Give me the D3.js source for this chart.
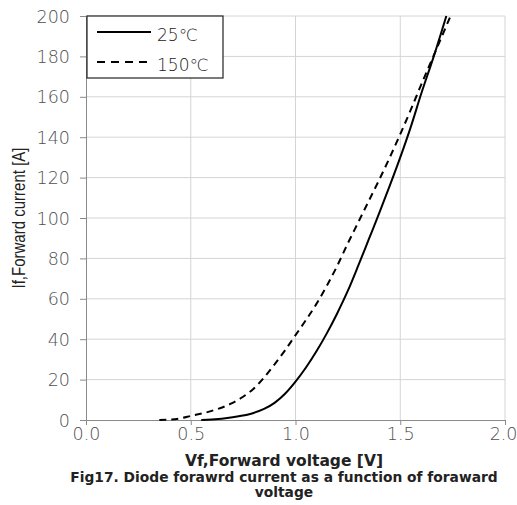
<!DOCTYPE html>
<html>
<head>
<meta charset="utf-8">
<script src="https://cdn.jsdelivr.net/npm/d3@7"></script>
<style>
  body { margin: 0; background: #fff; }
</style>
</head>
<body>
<div id="chart"></div>
<script>
// forward characteristics
var vf25 = [0.55, 0.6, 0.7, 0.8, 0.85, 0.9, 0.95, 1.0, 1.05, 1.1, 1.15, 1.2, 1.25, 1.3, 1.35, 1.4, 1.45, 1.5, 1.55, 1.6, 1.66, 1.72];
var if25 = [0, 0.2, 1.4, 3.5, 5.5, 8.5, 13, 19, 26, 34, 43, 53, 64, 76.5, 89.5, 102.5, 116, 130, 145, 161.5, 180, 200];
var vf150 = [0.35, 0.45, 0.5, 0.6, 0.7, 0.75, 0.8, 0.85, 0.9, 0.95, 1.0, 1.05, 1.1, 1.15, 1.2, 1.25, 1.3, 1.35, 1.4, 1.45, 1.5, 1.55, 1.6, 1.66, 1.74];
var if150 = [0, 0.8, 2, 4.5, 8.5, 11.5, 15.5, 21, 27.5, 34.5, 42, 49.5, 57.5, 66.5, 76.5, 87.5, 98, 108.5, 119, 130, 141.5, 153.5, 166, 180.5, 200];
var xTicks = [0, 0.5, 1.0, 1.5, 2.0];
var yTicks = [0, 20, 40, 60, 80, 100, 120, 140, 160, 180, 200];
var legendNames = ["25\u2103", "150\u2103"];

var W = 517, H = 505;
var svg = d3.select("#chart").append("svg")
    .attr("width", W)
    .attr("height", H);

var x = d3.scaleLinear().domain([0, 2]).range([86, 505]);
var y = d3.scaleLinear().domain([0, 200]).range([420, 16]);

// grid
svg.append("g").selectAll("line").data(yTicks.slice(1)).enter().append("line")
    .attr("x1", x(0)).attr("x2", x(2))
    .attr("y1", d => y(d)).attr("y2", d => y(d))
    .attr("stroke", "#d4d4d4").attr("stroke-width", 1);
svg.append("g").selectAll("line").data(xTicks.slice(1)).enter().append("line")
    .attr("x1", d => x(d)).attr("x2", d => x(d))
    .attr("y1", y(0)).attr("y2", y(200))
    .attr("stroke", "#d4d4d4").attr("stroke-width", 1);

// axes
var xAxis = svg.append("g")
    .attr("transform", "translate(0," + y(0) + ")")
    .call(d3.axisBottom(x).tickValues(xTicks).tickFormat(d3.format(".1f")).tickSizeOuter(0).tickSize(5).tickPadding(3));
var yAxis = svg.append("g")
    .attr("transform", "translate(" + x(0) + ",0)")
    .call(d3.axisLeft(y).tickValues(yTicks).tickSizeOuter(0).tickSize(6).tickPadding(10));
[xAxis, yAxis].forEach(function (a) {
    a.select(".domain").attr("stroke", "#8a8a8a");
    a.selectAll(".tick line").attr("stroke", "#8a8a8a");
    a.selectAll(".tick text")
        .attr("fill", "#505050")
        .style("font-size", "17.5px")
        .style("font-family", "'DejaVu Sans', sans-serif")
        .style("font-weight", "200");
});
yAxis.selectAll(".tick text").attr("dy", "0.35em");
// last x label sits at the window edge, as in the original
xAxis.selectAll(".tick text").filter(d => d === 2).attr("text-anchor", "end").attr("dx", "12px");

// curves
var line = d3.line().x(d => x(d[0])).y(d => y(d[1])).curve(d3.curveMonotoneX);
svg.append("path")
    .datum(d3.zip(vf150, if150))
    .attr("d", line)
    .attr("fill", "none")
    .attr("stroke", "#000")
    .attr("stroke-width", 2)
    .attr("stroke-dasharray", "7,5");
svg.append("path")
    .datum(d3.zip(vf25, if25))
    .attr("d", line)
    .attr("fill", "none")
    .attr("stroke", "#000")
    .attr("stroke-width", 2);

// legend
svg.append("rect")
    .attr("x", 87).attr("y", 16)
    .attr("width", 136).attr("height", 62)
    .attr("fill", "#fff").attr("stroke", "#222").attr("stroke-width", 1.2);
var legY = [32, 62];
for (var i = 0; i < legendNames.length; i++) {
    svg.append("line")
        .attr("x1", 97).attr("x2", 151)
        .attr("y1", legY[i]).attr("y2", legY[i])
        .attr("stroke", "#000").attr("stroke-width", 2)
        .attr("stroke-dasharray", i === 1 ? "8,6" : null);
    svg.append("text")
        .attr("x", 157).attr("y", legY[i] + 9)
        .style("font-family", "'DejaVu Sans', sans-serif")
        .style("font-weight", "200")
        .style("font-size", "17px")
        .attr("fill", "#222")
        .text(legendNames[i]);
}

// titles
svg.append("text")
    .attr("x", 284).attr("y", 466)
    .attr("text-anchor", "middle")
    .style("font-family", "'DejaVu Sans', sans-serif")
    .style("font-weight", "bold")
    .style("font-size", "15.5px")
    .attr("fill", "#222")
    .text("Vf,Forward voltage [V]");
svg.append("text")
    .attr("transform", "translate(25,218) rotate(-90)")
    .attr("text-anchor", "middle")
    .attr("textLength", 141)
    .attr("lengthAdjust", "spacingAndGlyphs")
    .style("font-family", "'Liberation Sans', sans-serif")
    .style("font-size", "17.5px")
    .attr("fill", "#222")
    .text("If,Forward current [A]");

var caption = ["Fig17. Diode forawrd current as a function of foraward", "voltage"];
var capY = [482, 497];
for (var k = 0; k < caption.length; k++) {
    svg.append("text")
        .attr("x", 284).attr("y", capY[k])
        .attr("text-anchor", "middle")
        .style("font-family", "'DejaVu Sans', sans-serif")
        .style("font-weight", "bold")
        .style("font-size", "13.8px")
        .attr("fill", "#222")
        .text(caption[k]);
}
</script>
</body>
</html>
